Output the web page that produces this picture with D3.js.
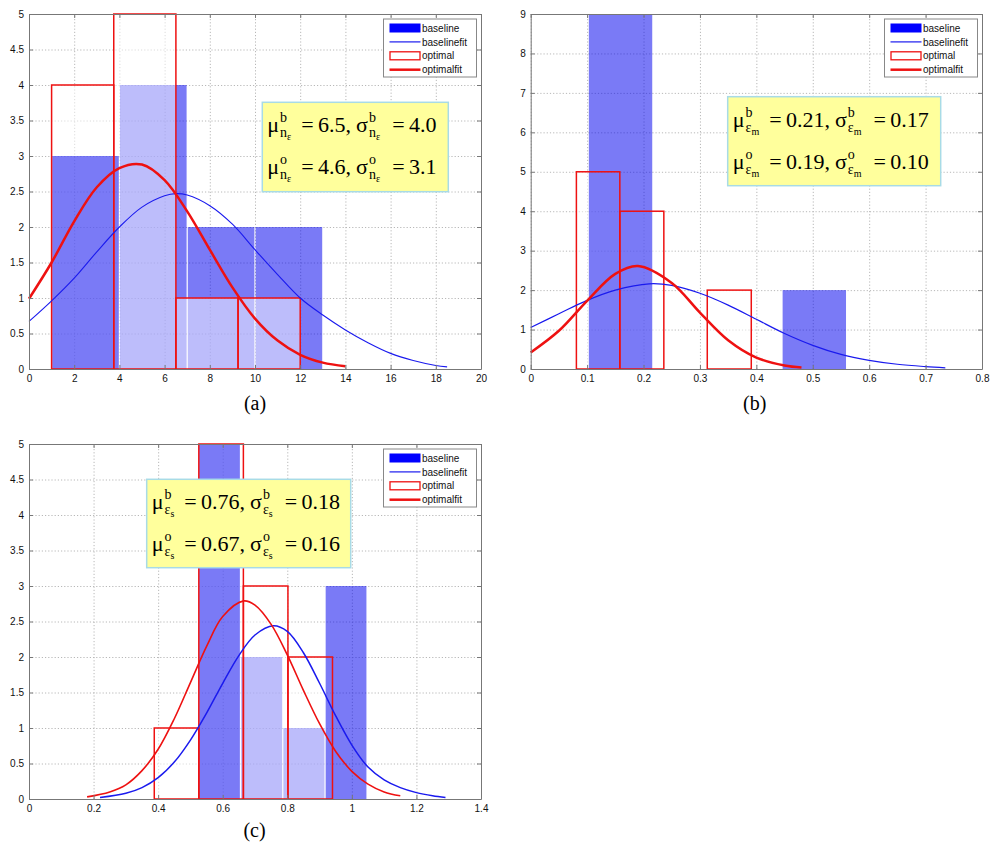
<!DOCTYPE html>
<html>
<head>
<meta charset="utf-8">
<script src="https://cdn.jsdelivr.net/npm/d3@7"></script>
<style>
  body { margin: 0; background: #fff; }
</style>
</head>
<body>
<svg id="chart" width="998" height="845"></svg>
<script>
// ---- (a) n_eps ----
const aXTicks = [0, 2, 4, 6, 8, 10, 12, 14, 16, 18, 20];
const aYTicks = [0, 0.5, 1, 1.5, 2, 2.5, 3, 3.5, 4, 4.5, 5];
const aBaseEdges = [1, 4, 7, 10, 13];
const aBaseCounts = [3, 4, 2, 2];
const aOptEdges = [1, 3.75, 6.5, 9.25, 12];
const aOptCounts = [4, 5, 1, 1];
const aBaseFitX = [0, 1, 2, 3, 4, 5, 6, 6.5, 7, 8, 9, 10, 11, 12, 13, 14, 15, 16, 17, 18, 18.5];
const aBaseFitY = [0.67, 0.96, 1.28, 1.65, 2.0, 2.28, 2.44, 2.47, 2.45, 2.3, 2.04, 1.68, 1.33, 1.0, 0.76, 0.55, 0.37, 0.22, 0.12, 0.05, 0.03];
const aOptFitX = [0, 1, 2, 3, 4, 5, 6, 7, 8, 9, 10, 11, 12, 13, 14];
const aOptFitY = [0.99, 1.5, 2.08, 2.56, 2.83, 2.88, 2.66, 2.22, 1.68, 1.15, 0.71, 0.4, 0.2, 0.09, 0.04];
const aNote = [
  [["μ", "b", "n", "ε"], "=\u20096.5,", ["σ", "b", "n", "ε"], "=\u20094.0"],
  [["μ", "o", "n", "ε"], "=\u20094.6,", ["σ", "o", "n", "ε"], "=\u20093.1"]
];

// ---- (b) eps_m ----
const bXTicks = [0, 0.1, 0.2, 0.3, 0.4, 0.5, 0.6, 0.7, 0.8];
const bYTicks = [0, 1, 2, 3, 4, 5, 6, 7, 8, 9];
const bBaseEdges = [0.102, 0.2165, 0.331, 0.4455, 0.56];
const bBaseCounts = [9, 0, 0, 2];
const bOptEdges = [0.081, 0.158, 0.236, 0.313, 0.391];
const bOptCounts = [5, 4, 0, 2];
const bBaseFitX = [0, 0.05, 0.1, 0.15, 0.21, 0.25, 0.3, 0.35, 0.4, 0.45, 0.5, 0.55, 0.6, 0.65, 0.7, 0.735];
const bBaseFitY = [1.05, 1.4, 1.74, 2.0, 2.16, 2.12, 1.92, 1.62, 1.26, 0.9, 0.6, 0.37, 0.22, 0.12, 0.06, 0.03];
const bOptFitX = [0, 0.05, 0.1, 0.15, 0.19, 0.25, 0.3, 0.35, 0.4, 0.45, 0.48];
const bOptFitY = [0.42, 0.97, 1.73, 2.41, 2.61, 2.18, 1.43, 0.73, 0.29, 0.09, 0.04];
const bNote = [
  [["μ", "b", "ε", "m"], "=\u20090.21,", ["σ", "b", "ε", "m"], "=\u20090.17"],
  [["μ", "o", "ε", "m"], "=\u20090.19,", ["σ", "o", "ε", "m"], "=\u20090.10"]
];

// ---- (c) eps_s ----
const cXTicks = [0, 0.2, 0.4, 0.6, 0.8, 1, 1.2, 1.4];
const cYTicks = [0, 0.5, 1, 1.5, 2, 2.5, 3, 3.5, 4, 4.5, 5];
const cBaseEdges = [0.525, 0.655, 0.786, 0.917, 1.047];
const cBaseCounts = [5, 2, 1, 3];
const cOptEdges = [0.388, 0.526, 0.664, 0.802, 0.94];
const cOptCounts = [1, 5, 3, 2];
const cBaseFitX = [0.22, 0.3, 0.35, 0.4, 0.45, 0.5, 0.55, 0.6, 0.65, 0.7, 0.757, 0.8, 0.85, 0.9, 0.95, 1.0, 1.05, 1.1, 1.15, 1.2, 1.25, 1.29];
const cBaseFitY = [0.02, 0.08, 0.16, 0.3, 0.52, 0.83, 1.21, 1.63, 2.02, 2.31, 2.44, 2.36, 2.06, 1.63, 1.17, 0.76, 0.45, 0.27, 0.16, 0.09, 0.045, 0.02];
const cOptFitX = [0.18, 0.25, 0.3, 0.35, 0.4, 0.45, 0.5, 0.55, 0.6, 0.665, 0.7, 0.75, 0.8, 0.85, 0.9, 0.95, 1.0, 1.05, 1.1, 1.15];
const cOptFitY = [0.03, 0.1, 0.2, 0.4, 0.7, 1.13, 1.64, 2.15, 2.57, 2.79, 2.73, 2.46, 2.03, 1.53, 1.06, 0.67, 0.39, 0.21, 0.1, 0.045];
const cNote = [
  [["μ", "b", "ε", "s"], "=\u20090.76,", ["σ", "b", "ε", "s"], "=\u20090.18"],
  [["μ", "o", "ε", "s"], "=\u20090.67,", ["σ", "o", "ε", "s"], "=\u20090.16"]
];

const legendLabels = ["baseline", "baselinefit", "optimal", "optimalfit"];

const BAR_BLUE = "#0000ee";
const FIT_BLUE = "#1a1aee";
const RED = "#ee1111";
const SERIF = "Liberation Serif";
const SANS = "Liberation Sans";

const svg = d3.select("#chart");
svg.append("rect").attr("width", 998).attr("height", 845).attr("fill", "#fff");

const fmt = d => String(+d.toFixed(2));

let serifText = (sel, x, y, size, str) =>
  sel.append("text").attr("x", x).attr("y", y)
    .attr("font-family", SERIF).attr("font-size", size).text(str);

let drawNote = (g, lines, bx, by, bw, bh) => {
  let box = g.append("g").attr("transform", `translate(${bx},${by})`);
  box.append("rect")
    .attr("width", bw).attr("height", bh)
    .attr("fill", "#ffff9c").attr("stroke", "#a8dbe6").attr("stroke-width", 1.5);
  lines.forEach((parts, li) => {
    let yb = li === 0 ? 30 : 72;
    let x = 5;
    let sym = 0;
    parts.forEach(p => {
      if (Array.isArray(p)) {
        let t = serifText(box, x, yb, 22, p[0]);
        let sx = x + t.node().getComputedTextLength() + 1;
        let sup = serifText(box, sx, yb - 10, 14, p[1]);
        let sub = serifText(box, sx, yb + 5, 14, p[2]);
        let ws = sub.node().getComputedTextLength();
        let ss = serifText(box, sx + ws, yb + 8, 10, p[3]);
        let block = Math.max(sup.node().getComputedTextLength(), ws + ss.node().getComputedTextLength());
        x = sx + block + (sym === 0 ? 10 : 12);
        sym++;
      } else {
        let t = serifText(box, x, yb, 22, p);
        x += t.node().getComputedTextLength() + 5;
      }
    });
  });
};

let drawPanel = (cfg) => {
  let g = svg.append("g").attr("transform", `translate(${cfg.left},${cfg.top})`);
  let w = cfg.w, h = cfg.h;
  let x = d3.scaleLinear().domain([cfg.xTicks[0], cfg.xTicks[cfg.xTicks.length - 1]]).range([0, w]);
  let y = d3.scaleLinear().domain([cfg.yTicks[0], cfg.yTicks[cfg.yTicks.length - 1]]).range([h, 0]);

  // grid
  g.append("g").attr("transform", `translate(0,${h})`)
    .call(d3.axisBottom(x).tickValues(cfg.xTicks).tickSize(-h).tickFormat(""))
    .call(s => s.select(".domain").remove())
    .selectAll("line").attr("stroke", "#b8b8b8").attr("stroke-dasharray", "1.2,2");
  g.append("g")
    .call(d3.axisLeft(y).tickValues(cfg.yTicks).tickSize(-w).tickFormat(""))
    .call(s => s.select(".domain").remove())
    .selectAll("line").attr("stroke", "#b8b8b8").attr("stroke-dasharray", "1.2,2");

  let base = cfg.baseCounts.map((c, i) => ({x0: cfg.baseEdges[i], x1: cfg.baseEdges[i + 1], c: c, i: i}))
    .filter(d => d.c > 0);
  let opt = cfg.optCounts.map((c, i) => ({x0: cfg.optEdges[i], x1: cfg.optEdges[i + 1], c: c, i: i}))
    .filter(d => d.c > 0);

  let baseBars = (data) => {
    g.append("g").selectAll("rect")
      .data(data)
      .enter()
      .append("rect")
      .attr("x", d => x(d.x0) + 0.6)
      .attr("width", d => x(d.x1) - x(d.x0) - 1.2)
      .attr("y", d => y(d.c))
      .attr("height", d => y(0) - y(d.c))
      .attr("fill", BAR_BLUE)
      .attr("fill-opacity", 0.52);
  };

  // same stacking as the original figure: some baseline bins sit above the optimal fill
  baseBars(base.filter(d => !cfg.front.includes(d.i)));
  g.append("g").selectAll("rect")
    .data(opt)
    .enter()
    .append("rect")
    .attr("x", d => x(d.x0))
    .attr("width", d => x(d.x1) - x(d.x0))
    .attr("y", d => y(d.c))
    .attr("height", d => y(0) - y(d.c))
    .attr("fill", "#fff")
    .attr("fill-opacity", 0.5);
  baseBars(base.filter(d => cfg.front.includes(d.i)));
  g.append("g").selectAll("rect")
    .data(opt)
    .enter()
    .append("rect")
    .attr("x", d => x(d.x0))
    .attr("width", d => x(d.x1) - x(d.x0))
    .attr("y", d => y(d.c))
    .attr("height", d => y(0) - y(d.c))
    .attr("fill", "none")
    .attr("stroke", RED)
    .attr("stroke-width", 1.5);

  let line = d3.line().x(d => x(d[0])).y(d => y(d[1])).curve(d3.curveCatmullRom.alpha(0.5));
  g.append("path")
    .datum(d3.zip(cfg.baseFitX, cfg.baseFitY))
    .attr("d", line)
    .attr("fill", "none").attr("stroke", FIT_BLUE).attr("stroke-width", cfg.baseFitW);
  g.append("path")
    .datum(d3.zip(cfg.optFitX, cfg.optFitY))
    .attr("d", line)
    .attr("fill", "none").attr("stroke", RED).attr("stroke-width", cfg.optFitW);

  // axes box with inward ticks
  let styleAxis = s => {
    s.select(".domain").attr("stroke", "#777");
    s.selectAll(".tick line").attr("stroke", "#777");
    s.selectAll("text").attr("font-family", SANS).attr("font-size", 10).attr("fill", "#111");
  };
  g.append("g").attr("transform", `translate(0,${h})`)
    .call(d3.axisBottom(x).tickValues(cfg.xTicks).tickSizeInner(-4).tickSizeOuter(0).tickPadding(6).tickFormat(fmt))
    .call(styleAxis);
  g.append("g")
    .call(d3.axisLeft(y).tickValues(cfg.yTicks).tickSizeInner(-4).tickSizeOuter(0).tickPadding(5).tickFormat(fmt))
    .call(styleAxis);
  g.append("g")
    .call(d3.axisTop(x).tickValues(cfg.xTicks).tickSizeInner(-4).tickSizeOuter(0).tickFormat(""))
    .call(styleAxis);
  g.append("g").attr("transform", `translate(${w},0)`)
    .call(d3.axisRight(y).tickValues(cfg.yTicks).tickSizeInner(-4).tickSizeOuter(0).tickFormat(""))
    .call(styleAxis);

  drawNote(g, cfg.note, cfg.noteBox[0], cfg.noteBox[1], cfg.noteBox[2], cfg.noteBox[3]);

  // legend
  let lg = g.append("g").attr("transform", `translate(${w - 97.5},5)`);
  lg.append("rect").attr("width", 93).attr("height", 58)
    .attr("fill", "#fff").attr("stroke", "#888").attr("stroke-width", 1);
  let rows = lg.selectAll("g.row")
    .data(legendLabels)
    .enter()
    .append("g")
    .attr("class", "row")
    .attr("transform", (d, i) => `translate(0,${9 + i * 13.9})`);
  rows.each(function (d, i) {
    let r = d3.select(this);
    if (i === 0) {
      r.append("rect").attr("x", 6).attr("y", -4.5).attr("width", 31).attr("height", 9).attr("fill", "#0000ff");
    } else if (i === 2) {
      r.append("rect").attr("x", 6.5).attr("y", -4).attr("width", 30).attr("height", 8)
        .attr("fill", "#fff").attr("stroke", RED).attr("stroke-width", 1.3);
    } else {
      r.append("line").attr("x1", 6).attr("x2", 37).attr("y1", 0).attr("y2", 0)
        .attr("stroke", i === 1 ? FIT_BLUE : RED).attr("stroke-width", i === 1 ? 1.2 : 2.5);
    }
    r.append("text").attr("x", 38.5).attr("y", 3.6)
      .attr("font-family", SANS).attr("font-size", 10).attr("fill", "#111").text(d);
  });

  serifText(svg, cfg.left + cfg.capX, cfg.top + h + cfg.capDy, 20, cfg.caption)
    .attr("text-anchor", "middle");
};

drawPanel({
  left: 29, top: 14, w: 452, h: 355,
  xTicks: aXTicks, yTicks: aYTicks,
  baseEdges: aBaseEdges, baseCounts: aBaseCounts, optEdges: aOptEdges, optCounts: aOptCounts,
  baseFitX: aBaseFitX, baseFitY: aBaseFitY, optFitX: aOptFitX, optFitY: aOptFitY,
  baseFitW: 1.1, optFitW: 2.5, front: [0],
  note: aNote, noteBox: [233.3, 88.3, 186, 89.4],
  caption: "(a)", capX: 226, capDy: 41
});

drawPanel({
  left: 530.7, top: 14, w: 451.3, h: 355,
  xTicks: bXTicks, yTicks: bYTicks,
  baseEdges: bBaseEdges, baseCounts: bBaseCounts, optEdges: bOptEdges, optCounts: bOptCounts,
  baseFitX: bBaseFitX, baseFitY: bBaseFitY, optFitX: bOptFitX, optFitY: bOptFitY,
  baseFitW: 1.2, optFitW: 2.5, front: [0],
  note: bNote, noteBox: [197, 82.7, 213, 89],
  caption: "(b)", capX: 224, capDy: 41
});

drawPanel({
  left: 29, top: 444, w: 452, h: 355,
  xTicks: cXTicks, yTicks: cYTicks,
  baseEdges: cBaseEdges, baseCounts: cBaseCounts, optEdges: cOptEdges, optCounts: cOptCounts,
  baseFitX: cBaseFitX, baseFitY: cBaseFitY, optFitX: cOptFitX, optFitY: cOptFitY,
  baseFitW: 1.5, optFitW: 1.6, front: [0, 3],
  note: cNote, noteBox: [117.7, 35.3, 204, 88.4],
  caption: "(c)", capX: 225.5, capDy: 38
});
</script>
</body>
</html>
